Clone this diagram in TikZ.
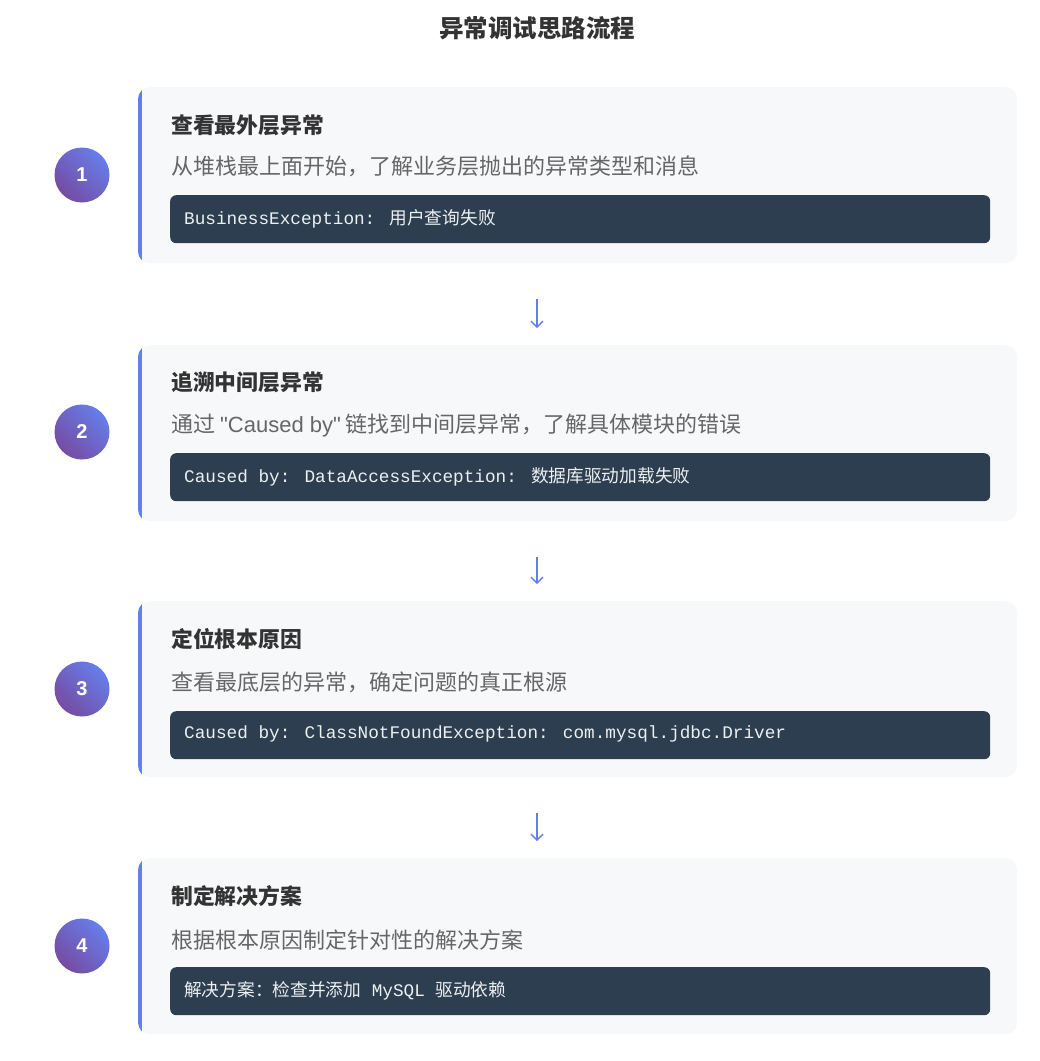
\documentclass[tikz,border=0pt]{standalone}
\usepackage{fontspec}
\setmainfont{Noto Sans CJK SC}
\newfontfamily\cjk{Noto Sans CJK SC}
\newfontfamily\lat{Liberation Sans}
\newfontfamily\mono{Liberation Mono}
\usetikzlibrary{arrows.meta,calc}
\definecolor{cardbg}{HTML}{F7F8FA}
\definecolor{accent}{HTML}{667EEA}
\definecolor{accent2}{HTML}{764BA2}
\definecolor{codebg}{HTML}{2D3E50}
\definecolor{codefg}{HTML}{ECF0F1}
\definecolor{headc}{HTML}{333333}
\definecolor{descc}{HTML}{666666}
\tikzset{
  card/.style={rectangle, rounded corners=12, fill=cardbg, anchor=north west,
    minimum width=879, minimum height=176, inner sep=0},
  numc/.style={circle, minimum size=55, inner sep=0, shading=axis,
    left color=accent, right color=accent2, shading angle=-45,
    text=white, font=\fontsize{20}{22}\selectfont\lat\bfseries},
  heading/.style={anchor=west, inner sep=0, text=headc, font=\fontsize{21.8}{25}\selectfont\bfseries},
  desc/.style={anchor=west, inner sep=0, text=descc, font=\fontsize{22}{26}\selectfont},
  codebox/.style={rectangle, rounded corners=6, fill=codebg, anchor=north west,
    minimum width=820, minimum height=48, inner sep=0},
  codetxt/.style={anchor=west, inner sep=0, text=codefg, font=\fontsize{17.7}{21}\selectfont\mono},
  flow/.style={draw=accent, line width=1.4, -{Straight Barb[length=6,width=12]},
    shorten <=36, shorten >=17},
}
\newcommand\drawcard[1]{%
  \begin{scope}
    \clip[rounded corners=12] (#1.north west) rectangle (#1.south east);
    \fill[accent] (#1.north west) rectangle ([xshift=4]#1.south west);
  \end{scope}}
\begin{document}
\begin{tikzpicture}[x=1pt,y=-1pt]
\fill[white] (0,0) rectangle (1040,1061);
\useasboundingbox (0,0) rectangle (1040,1061);

\node[text=headc, font=\fontsize{24.5}{28}\selectfont\bfseries] (title) at (537,28) {异常调试思路流程};

% card 1
\node[card] (c1) at (138,87) {};
\drawcard{c1}
\node[numc] (n1) at (82,175) {1};
\node[heading] (h1) at (171,125) {查看最外层异常};
\node[desc] (d1) at (171,166) {从堆栈最上面开始，了解业务层抛出的异常类型和消息};
\node[codebox] (k1) at (170,195) {};
\node[codetxt] (t1) at (184,219) {BusinessException: {\cjk 用户查询失败}};

% card 2
\node[card] (c2) at (138,345) {};
\drawcard{c2}
\node[numc] (n2) at (82,432) {2};
\node[heading] (h2) at (171,382) {追溯中间层异常};
\node[desc] (d2) at (171,425) {通过 {\lat "Caused by"} 链找到中间层异常，了解具体模块的错误};
\node[codebox] (k2) at (170,453) {};
\node[codetxt] (t2) at (184,477) {Caused by: DataAccessException: {\cjk 数据库驱动加载失败}};

% card 3
\node[card] (c3) at (138,601) {};
\drawcard{c3}
\node[numc] (n3) at (82,689) {3};
\node[heading] (h3) at (171,639) {定位根本原因};
\node[desc] (d3) at (171,682) {查看最底层的异常，确定问题的真正根源};
\node[codebox] (k3) at (170,711) {};
\node[codetxt] (t3) at (184,734) {Caused by: ClassNotFoundException: com.mysql.jdbc.Driver};

% card 4
\node[card] (c4) at (138,858) {};
\drawcard{c4}
\node[numc] (n4) at (82,946) {4};
\node[heading] (h4) at (171,896) {制定解决方案};
\node[desc] (d4) at (171,940) {根据根本原因制定针对性的解决方案};
\node[codebox] (k4) at (170,967) {};
\node[codetxt] (t4) at (184,991) {{\cjk 解决方案：检查并添加} MySQL {\cjk 驱动依赖}};

% arrows
\draw[flow] (title |- c1.south) -- (title |- c2.north);
\draw[flow] (title |- c2.south) -- (title |- c3.north);
\draw[flow] (title |- c3.south) -- (title |- c4.north);
\end{tikzpicture}
\end{document}
